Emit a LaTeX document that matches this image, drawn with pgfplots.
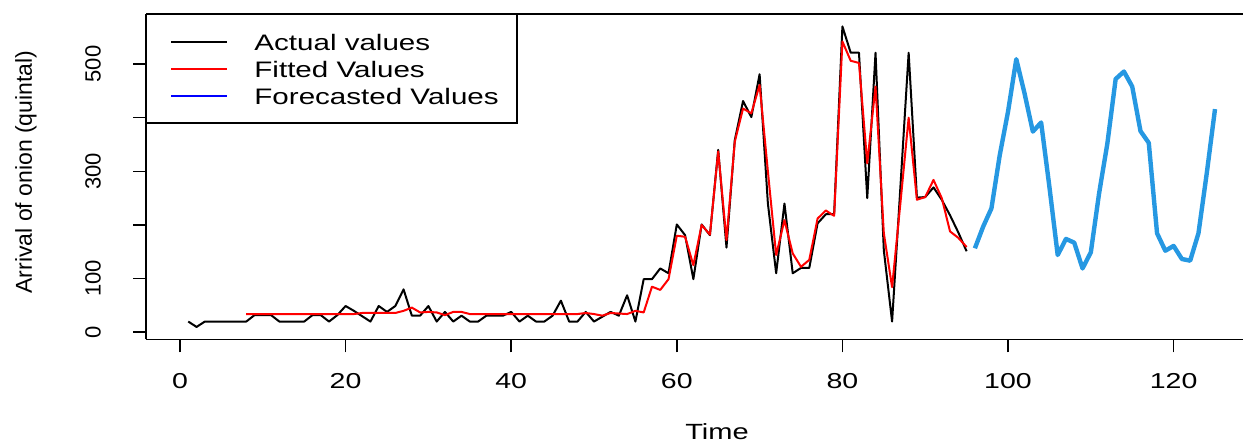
\documentclass[border=0pt]{standalone}
\usepackage{pgfplots}
\pgfplotsset{compat=1.18}
\usepackage{graphicx}
\usepackage{fontspec}
\setmainfont{Liberation Sans}
\newcommand{\hs}[1]{\scalebox{1.32}[1]{#1}}
\definecolor{fc}{RGB}{38,152,226}

\pgfplotstableread{
x y
1 20
2 10
3 20
4 20
5 20
6 20
7 20
8 20
9 32
10 32
11 32
12 20
13 20
14 20
15 20
16 32
17 32
18 20
19 32
20 49
21 40
22 30
23 20
24 49
25 38
26 49
27 80
28 31
29 31
30 49
31 20
32 38
33 20
34 31
35 20
36 20
37 31
38 31
39 31
40 38
41 20
42 31
43 20
44 20
45 31
46 59
47 20
48 20
49 38
50 20
51 29
52 38
53 31
54 69
55 20
56 99
57 99
58 119
59 110
60 201
61 181
62 99
63 201
64 181
65 340
66 158
67 358
68 431
69 401
70 481
71 240
72 110
73 240
74 110
75 120
76 120
77 203
78 220
79 220
80 570
81 521
82 521
83 250
84 521
85 153
86 20
87 270
88 521
89 251
90 252
91 270
92 247
93 218
94 186
95 151
}\actual

\pgfplotstableread{
x y
8 34
9 34
10 34
11 34
12 34
13 34
14 34
15 34
16 34
17 34
18 34
19 34
20 34
21 34
22 36
23 36
24 36
25 36
26 36
27 40
28 46
29 37
30 38
31 37
32 32
33 38
34 38
35 34
36 34
37 34
38 34
39 34
40 34
41 34
42 34
43 34
44 34
45 34
46 34
47 34
48 34
49 36
50 34
51 31
52 36
53 35
54 34
55 40
56 37
57 85
58 79
59 99
60 180
61 178
62 125
63 200
64 182
65 337
66 172
67 355
68 417
69 408
70 461
71 300
72 144
73 209
74 147
75 122
76 135
77 212
78 227
79 217
80 542
81 506
82 502
83 315
84 458
85 185
86 84
87 240
88 400
89 247
90 252
91 284
92 250
93 188
94 176
95 159
}\fitted

\pgfplotstableread{
x y
96 156.5
97 197
98 231
99 330
100 411
101 509
102 445
103 374
104 391
105 271
106 144
107 174
108 167
109 119
110 149
111 259
112 352
113 472
114 486
115 458
116 375
117 353
118 184.5
119 152
120 161
121 136.6
122 133.5
123 184.5
124 296
125 416
}\forecast

\begin{document}
\begin{tikzpicture}
\begin{axis}[
  at={(73pt,52.75pt)}, anchor=south west,
  scale only axis, width=548.5pt, height=162.75pt,
  xmin=-4.106, xmax=128.38, ymin=-13.42, ymax=593.2,
  axis x line*=box, axis y line*=left,
  axis line style={line width=0.9pt, black},
  tick align=outside, tick pos=left,
  major tick length=6.5pt,
  tick style={line width=0.8pt, black},
  xtick={0,20,40,60,80,100,120},
  xticklabels={\hs{0},\hs{20},\hs{40},\hs{60},\hs{80},\hs{100},\hs{120}},
  ytick={0,100,200,300,400,500},
  yticklabels={0,100,,300,,500},
  xticklabel style={anchor=center, yshift=-14.1pt, font=\fontsize{10.8}{12}\selectfont},
  yticklabel style={xshift=-20pt, rotate=90, anchor=center, font=\fontsize{11}{12}\selectfont},
  xlabel={\hs{Time}},
  xlabel style={at={(axis description cs:0.5205,-0.2842)}, anchor=center, font=\fontsize{11}{13}\selectfont},
  ylabel={Arrival of onion (quintal)},
  ylabel style={at={(axis description cs:-0.1094,0.5146)}, anchor=center, font=\fontsize{11.5}{13}\selectfont},
  legend style={at={(axis description cs:0,1)}, anchor=north west, draw=none, fill=none,
    inner xsep=12pt, inner ysep=9.85pt, row sep=5.5pt, column sep=13.25pt,
    nodes={inner sep=0pt, text height=8pt, text depth=0pt, font=\fontsize{11.2}{13}\selectfont},
    cells={anchor=west}},
  legend image code/.code={\draw[#1] (0pt,0pt) -- (27.75pt,0pt);},
  every axis plot/.append style={line join=round, mark=none},
]
\addplot[black, line width=1pt] table[x=x,y=y] {\actual};
\addlegendentry{\hs{Actual values}}
\addplot[red, line width=1pt] table[x=x,y=y] {\fitted};
\addlegendentry{\hs{Fitted Values}}
\addplot[fc, line width=2.2pt, forget plot] table[x=x,y=y] {\forecast};
\addlegendimage{blue, line width=1pt}
\addlegendentry{\hs{Forecasted Values}}
\draw[line width=0.9pt] (axis description cs:0,1) rectangle (axis description cs:0.3379,0.6642);
\end{axis}
\pgfresetboundingbox
\useasboundingbox (0,0) rectangle (621.5pt,222.5pt);
\end{tikzpicture}
\end{document}
